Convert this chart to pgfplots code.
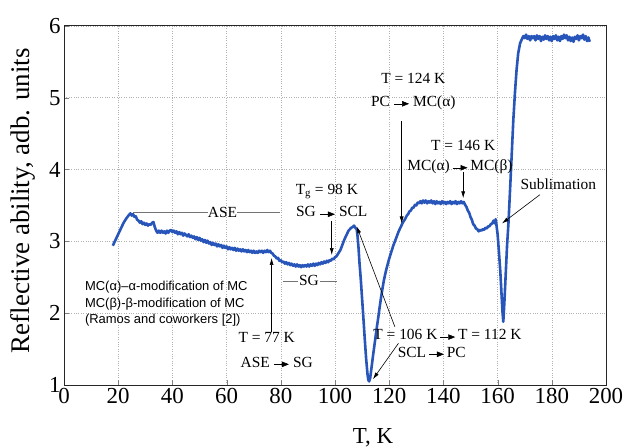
\documentclass[border=0pt]{standalone}
\usepackage{pgfplots}
\pgfplotsset{compat=1.18}
\usepackage{pgfplotstable}
\usepackage{fontspec}
\setmainfont{Liberation Serif}
\newfontfamily\arial{Liberation Sans}
\usetikzlibrary{arrows.meta}
\definecolor{curve}{RGB}{40,85,185}
\newsavebox\arrbox
\newcommand\rar{\usebox\arrbox}
\pgfplotstableread{
T R
18 2.94
19 3.02
20 3.10
21 3.18
22 3.26
23 3.32
24 3.37
24.5 3.39
25 3.36
25.5 3.38
26 3.34
26.5 3.35
27 3.30
27.5 3.29
28 3.26
28.5 3.28
29 3.24
29.5 3.26
30 3.23
30.5 3.25
31 3.22
31.5 3.24
32 3.23
32.5 3.26
33 3.27
33.5 3.20
34 3.15
34.5 3.12
35 3.15
35.5 3.12
36 3.15
36.5 3.12
37 3.14
37.5 3.11
38 3.15
38.5 3.12
39 3.15
39.5 3.16
40 3.13
40.5 3.15
41 3.12
41.5 3.14
42 3.10
42.5 3.13
43 3.10
43.5 3.12
44 3.08
44.5 3.11
45 3.09
45.5 3.07
46 3.10
46.5 3.06
47 3.08
47.5 3.05
48 3.07
48.5 3.03
49 3.06
49.5 3.02
50 3.05
50.5 3.01
51 3.03
51.5 2.99
52 3.02
52.5 2.98
53 3.01
53.5 2.97
54 2.99
54.5 2.95
55 2.98
55.5 2.95
56 2.97
56.5 2.93
57 2.96
57.5 2.93
58 2.95
58.5 2.91
59 2.94
59.5 2.91
60 2.93
60.5 2.89
61 2.92
61.5 2.89
62 2.91
62.5 2.88
63 2.91
63.5 2.87
64 2.90
64.5 2.87
65 2.89
65.5 2.86
66 2.89
66.5 2.86
67 2.88
67.5 2.85
68 2.88
68.5 2.85
69 2.87
69.5 2.84
70 2.87
70.5 2.84
71 2.86
71.5 2.84
72 2.87
72.5 2.85
73 2.87
73.5 2.84
74 2.87
74.5 2.85
75 2.88
75.5 2.85
76 2.87
76.5 2.84
77 2.83
77.5 2.80
78 2.79
78.5 2.76
79 2.77
79.5 2.73
80 2.74
80.5 2.71
81 2.72
81.5 2.69
82 2.71
82.5 2.68
83 2.70
83.5 2.67
84 2.69
84.5 2.66
85 2.68
85.5 2.65
86 2.68
86.5 2.65
87 2.67
87.5 2.64
88 2.67
88.5 2.65
89 2.67
89.5 2.65
90 2.68
90.5 2.65
91 2.68
91.5 2.66
92 2.69
92.5 2.66
93 2.69
93.5 2.67
94 2.70
94.5 2.68
95 2.71
95.5 2.69
96 2.72
96.5 2.70
97 2.73
97.5 2.71
98 2.74
98.5 2.73
99 2.76
99.5 2.75
100 2.78
100.5 2.79
101 2.82
101.5 2.85
102 2.88
102.5 2.93
103 2.98
103.5 3.03
104 3.07
104.5 3.11
105 3.15
105.5 3.17
106 3.19
106.5 3.20
107 3.22
107.5 3.19
108 3.17
108.3 3.08
108.7 2.90
109 2.72
109.5 2.48
110 2.20
110.5 1.92
111 1.63
111.5 1.36
112 1.15
112.3 1.07
112.6 1.05
113 1.10
113.5 1.25
114 1.40
114.5 1.54
115 1.68
115.5 1.82
116 1.95
116.5 2.09
117 2.22
117.5 2.34
118 2.45
118.5 2.54
119 2.62
119.5 2.69
120 2.76
120.5 2.82
121 2.88
121.5 2.94
122 2.99
122.5 3.04
123 3.09
123.5 3.14
124 3.18
124.5 3.22
125 3.26
125.5 3.29
126 3.32
126.5 3.36
127 3.38
127.5 3.42
128 3.43
128.5 3.47
129 3.47
129.5 3.51
130 3.50
130.5 3.54
131 3.53
131.5 3.56
132 3.53
132.5 3.57
133 3.54
133.5 3.57
134 3.53
134.5 3.56
135 3.54
135.5 3.57
136 3.53
136.5 3.56
137 3.52
137.5 3.56
138 3.53
138.5 3.55
139 3.52
139.5 3.56
140 3.53
140.5 3.55
141 3.52
141.5 3.55
142 3.53
142.5 3.56
143 3.52
143.5 3.55
144 3.53
144.5 3.56
145 3.52
145.5 3.55
146 3.53
146.5 3.56
147 3.53
147.5 3.55
148 3.51
148.5 3.48
149 3.43
149.5 3.40
150 3.34
150.5 3.30
151 3.24
151.5 3.22
152 3.18
152.5 3.17
153 3.14
153.5 3.16
154 3.15
154.5 3.17
155 3.16
155.5 3.19
156 3.18
156.5 3.21
157 3.21
157.5 3.24
158 3.25
158.5 3.29
159 3.25
159.3 3.31
159.6 3.22
160 3.10
160.5 2.85
161 2.58
161.4 2.30
161.8 2.02
162.1 1.88
162.5 2.15
163 2.55
163.5 2.95
164 3.25
164.6 3.72
165.2 4.20
165.8 4.69
166.4 5.07
167 5.39
167.6 5.62
168.3 5.76
169 5.82
169.5 5.86
170 5.83
170.5 5.88
171 5.82
171.5 5.86
172 5.80
172.5 5.86
173 5.83
173.5 5.86
174 5.80
174.5 5.87
175 5.82
175.5 5.86
176 5.79
176.5 5.85
177 5.81
177.5 5.87
178 5.82
178.5 5.86
179 5.80
179.5 5.85
180 5.79
180.5 5.86
181 5.82
181.5 5.87
182 5.80
182.5 5.85
183 5.79
183.5 5.86
184 5.82
184.5 5.88
185 5.83
185.5 5.87
186 5.80
186.5 5.85
187 5.79
187.5 5.84
188 5.78
188.5 5.85
189 5.82
189.5 5.87
190 5.80
190.5 5.86
191 5.83
191.5 5.88
192 5.81
192.5 5.86
193 5.79
193.5 5.84
194 5.78
}\datatable
\begin{document}
\sbox\arrbox{\tikz[baseline=-0.6ex]\draw[line width=0.5pt,-{Triangle[length=7pt,width=5.5pt]}](0,0)--(15pt,0);}%
\begin{tikzpicture}
\begin{axis}[
  scale only axis, width=542bp, height=359bp,
  xmin=0, xmax=200, ymin=1, ymax=6,
  xtick={0,20,...,200}, ytick={1,2,...,6},
  tick align=inside, xtick pos=bottom, ytick pos=left,
  major tick length=5bp,
  axis line style={line width=1bp, black!85},
  grid=major,
  major grid style={dotted, line width=0.6bp, black!30},
  /pgf/number format/assume math mode=true,
  ticklabel style={font=\fontsize{23}{23}\selectfont},
  xlabel={T, K}, ylabel={Reflective ability, adb. units},
  xlabel style={font=\fontsize{23}{23}\selectfont, at={(axis description cs:0.57,-0.164)}, anchor=base},
  ylabel style={font=\fontsize{27}{27}\selectfont, at={(axis description cs:-0.0757,0.513)}, anchor=center},
  clip=false,
]
\addplot[curve, line width=2.6bp, line join=round] table[x=T, y=R] {\datatable};

\begin{scope}[every node/.style={font=\fontsize{15.5}{15.5}\selectfont, inner sep=1pt}]
% ASE
\draw[black!55, line width=0.6bp] (axis cs:25.5,3.40) -- (axis cs:53,3.40);
\draw[black!55, line width=0.6bp] (axis cs:64,3.40) -- (axis cs:79.7,3.40);
\node at (axis cs:58.5,3.40) {ASE};
% SG
\draw[black!55, line width=0.6bp] (axis cs:80.8,2.45) -- (axis cs:86.3,2.45);
\draw[black!55, line width=0.6bp] (axis cs:94.5,2.45) -- (axis cs:100.7,2.45);
\node at (axis cs:90.4,2.45) {SG};
% T=77
\draw[line width=0.6bp, -{Latex[length=7pt,width=4pt]}] (axis cs:76.6,1.74) -- (axis cs:76.6,2.77);
\node at (axis cs:74.8,1.66) {T = 77 K};
\node at (axis cs:78.5,1.32) {ASE \rar\ SG};
% Tg
\node at (axis cs:97,3.69) {T\textsubscript{g} = 98 K};
\node at (axis cs:98.8,3.41) {SG \rar\ SCL};
\draw[line width=0.6bp, -{Latex[length=7pt,width=4pt]}] (axis cs:98.8,3.28) -- (axis cs:98.8,2.81);
% 124
\node at (axis cs:128.9,5.27) {T = 124 K};
\node at (axis cs:128.9,4.93) {PC \rar\ MC(α)};
\draw[line width=0.6bp, -{Latex[length=7pt,width=4pt]}] (axis cs:124.6,4.67) -- (axis cs:124.6,3.25);
% 146
\node at (axis cs:147.3,4.33) {T = 146 K};
\node at (axis cs:146.1,4.04) {MC(α)\,\rar\,MC(β)};
\draw[line width=0.6bp, -{Latex[length=7pt,width=4pt]}] (axis cs:147.3,3.97) -- (axis cs:147.3,3.60);
% Sublimation
\node at (axis cs:182.4,3.80) {Sublimation};
\draw[line width=0.6bp, -{Latex[length=7pt,width=4pt]}] (axis cs:175.6,3.65) -- (axis cs:161.6,3.25);
% 106 -> 112
\node at (axis cs:141.5,1.70) {T = 106 K\,\rar\,T = 112 K};
\node at (axis cs:135.7,1.46) {SCL\,\rar\,PC};
\draw[line width=0.6bp, -{Latex[length=7pt,width=4pt]}] (axis cs:122.1,1.81) -- (axis cs:108.0,3.21);
\draw[line width=0.6bp, -{Latex[length=7pt,width=4pt]}] (axis cs:123.4,1.58) -- (axis cs:114.0,1.08);
\end{scope}
% sans block
\node[anchor=west, align=left, font=\arial\fontsize{13}{16.5}\selectfont, inner sep=0pt] at (axis cs:7.7,2.13)
 {MC(α)–α-modification of MC\\MC(β)-β-modification of MC\\(Ramos and coworkers [2])};
\end{axis}
\pgfresetboundingbox
\path (current axis.south west) ++(-64bp,-63bp) rectangle ++(627bp,448bp);
\end{tikzpicture}
\end{document}
